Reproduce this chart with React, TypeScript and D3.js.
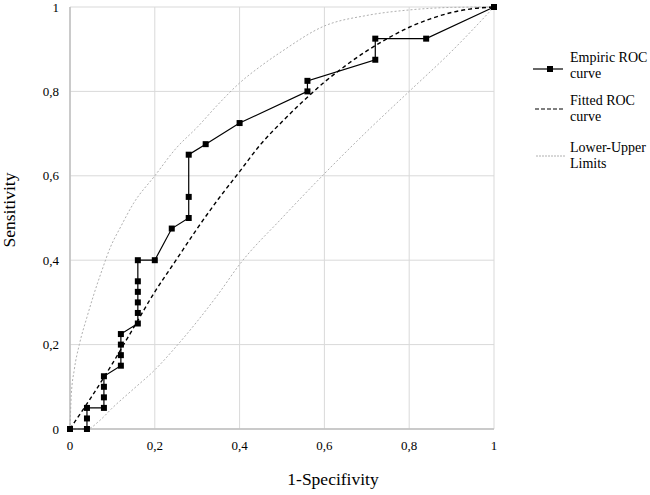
import React from "react";
import * as d3 from "d3";

const ticks = [0, 0.2, 0.4, 0.6, 0.8, 1];
const tickLabels = ["0", "0,2", "0,4", "0,6", "0,8", "1"];

const empX = [0, 0.04, 0.04, 0.04, 0.08, 0.08, 0.08, 0.08, 0.12, 0.12, 0.12, 0.12, 0.16, 0.16, 0.16, 0.16, 0.16, 0.16, 0.2, 0.24, 0.28, 0.28, 0.28, 0.32, 0.4, 0.56, 0.56, 0.72, 0.72, 0.84, 1];
const empY = [0, 0, 0.025, 0.05, 0.05, 0.075, 0.1, 0.125, 0.15, 0.175, 0.2, 0.225, 0.25, 0.275, 0.3, 0.325, 0.35, 0.4, 0.4, 0.475, 0.5, 0.55, 0.65, 0.675, 0.725, 0.8, 0.825, 0.875, 0.925, 0.925, 1];

const fitX = [0, 0.02, 0.05, 0.1, 0.15, 0.2, 0.25, 0.3, 0.35, 0.4, 0.45, 0.5, 0.55, 0.6, 0.65, 0.7, 0.75, 0.8, 0.85, 0.9, 0.95, 1];
const fitY = [0, 0.03, 0.075, 0.155, 0.24, 0.325, 0.4, 0.475, 0.545, 0.61, 0.675, 0.728, 0.777, 0.822, 0.861, 0.896, 0.926, 0.952, 0.972, 0.987, 0.996, 1];

const upX = [0, 0.003, 0.01, 0.022, 0.04, 0.055, 0.075, 0.095, 0.12, 0.15, 0.2, 0.25, 0.3, 0.35, 0.4, 0.45, 0.5, 0.6, 0.7, 0.8, 0.9, 1];
const upY = [0, 0.08, 0.14, 0.2, 0.265, 0.315, 0.375, 0.43, 0.48, 0.535, 0.6, 0.665, 0.715, 0.77, 0.82, 0.86, 0.895, 0.955, 0.98, 0.993, 0.999, 1];

const loX = [0, 0.04, 0.07, 0.1, 0.15, 0.2, 0.25, 0.3, 0.35, 0.4, 0.5, 0.6, 0.7, 0.8, 0.9, 1];
const loY = [0, 0, 0.02, 0.05, 0.095, 0.14, 0.195, 0.255, 0.32, 0.39, 0.5, 0.605, 0.705, 0.8, 0.895, 1];

const legendLabels = [["Empiric ROC", "curve"], ["Fitted ROC", "curve"], ["Lower-Upper", "Limits"]];

const FONT = "Liberation Serif, Times New Roman, serif";

export default function App() {
  const x = d3.scaleLinear().domain([0, 1]).range([70, 494]);
  const y = d3.scaleLinear().domain([0, 1]).range([429, 7]);

  const zip = (xs: number[], ys: number[]) => xs.map((v, i) => [v, ys[i]] as [number, number]);
  const straight = d3.line<[number, number]>().x((d) => x(d[0])).y((d) => y(d[1]));
  const smooth = d3.line<[number, number]>().x((d) => x(d[0])).y((d) => y(d[1])).curve(d3.curveMonotoneX);

  const emp = zip(empX, empY);
  const ts = { fontFamily: FONT };

  return (
    <svg width={650} height={495} style={{ position: "absolute", left: 0, top: 0, background: "#fff" }}>
      <rect width={650} height={495} fill="#fff" />
      {ticks.map((t) => (
        <g key={"g" + t}>
          <line x1={x(t)} x2={x(t)} y1={y(0)} y2={y(1)} stroke="#d9d9d9" strokeWidth={1} />
          <line x1={x(0)} x2={x(1)} y1={y(t)} y2={y(t)} stroke="#d9d9d9" strokeWidth={1} />
        </g>
      ))}
      <line x1={x(0)} x2={x(1)} y1={y(0)} y2={y(0)} stroke="#bfbfbf" strokeWidth={1.5} />
      <line x1={x(0)} x2={x(0)} y1={y(0)} y2={y(1)} stroke="#bfbfbf" strokeWidth={1.5} />
      {ticks.map((t, i) => (
        <text key={"xt" + t} x={x(t)} y={450} textAnchor="middle" fontSize={13} fill="#000" style={ts}>{tickLabels[i]}</text>
      ))}
      {ticks.map((t, i) => (
        <text key={"yt" + t} x={59} y={y(t) + 4.5} textAnchor="end" fontSize={13} fill="#000" style={ts}>{tickLabels[i]}</text>
      ))}
      <path d={smooth(zip(upX, upY)) || ""} fill="none" stroke="#b0b0b0" strokeWidth={1} strokeDasharray="2,2" />
      <path d={smooth(zip(loX, loY)) || ""} fill="none" stroke="#b0b0b0" strokeWidth={1} strokeDasharray="2,2" />
      <path d={smooth(zip(fitX, fitY)) || ""} fill="none" stroke="#000" strokeWidth={1.4} strokeDasharray="4,3" />
      <path d={straight(emp) || ""} fill="none" stroke="#000" strokeWidth={1.2} />
      {emp.map((d, i) => (
        <rect key={"m" + i} x={x(d[0]) - 3} y={y(d[1]) - 3} width={6} height={6} fill="#000" />
      ))}
      <text x={333} y={485} textAnchor="middle" fontSize={17.5} fill="#000" style={ts}>1-Specifivity</text>
      <text transform="translate(15,210) rotate(-90)" textAnchor="middle" fontSize={17.5} fill="#000" style={ts}>Sensitivity</text>
      {/* legend */}
      <line x1={533} x2={563} y1={69} y2={69} stroke="#000" strokeWidth={1.2} />
      <rect x={547} y={66} width={6} height={6} fill="#000" />
      <line x1={535} x2={565} y1={109} y2={109} stroke="#000" strokeWidth={1.2} strokeDasharray="4,2" />
      <line x1={536} x2={565} y1={156} y2={156} stroke="#b0b0b0" strokeWidth={1} strokeDasharray="2,1" />
      {legendLabels.map((lines, i) => (
        <text key={"lg" + i} x={570} y={[62, 105, 152][i]} fontSize={14} fill="#000" style={ts}>
          <tspan x={570}>{lines[0]}</tspan>
          <tspan x={570} dy={16}>{lines[1]}</tspan>
        </text>
      ))}
    </svg>
  );
}
